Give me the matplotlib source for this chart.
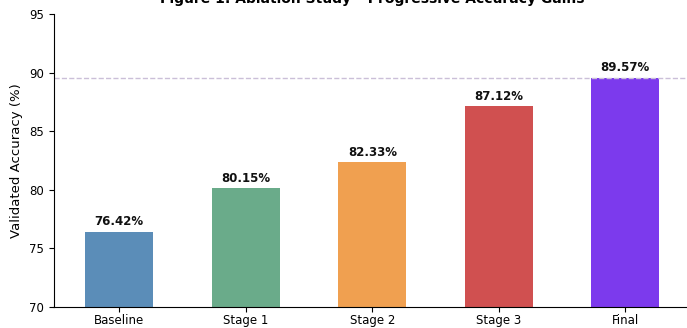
import matplotlib
matplotlib.use("Agg")
import matplotlib.pyplot as plt

stages = ["Baseline\nResNet-18", "Stage 1\n+WCE Loss", "Stage 2\n+AdamW+TS",
          "Stage 3\n+Multi-Scale", "Final\n+TTA"]
accuracy = [76.42, 80.15, 82.33, 87.12, 89.57]
colors = ["#5b8db8", "#6aab8a", "#f0a050", "#d05050", "#7c3aed"]
yticks = [70, 75, 80, 85, 90, 95]

fig = plt.figure(figsize=(6.87, 3.28), dpi=100)
ax = fig.add_axes([53.5 / 687, 1 - 307 / 328, (691 - 53.5) / 687, (307 - 14) / 328])

x = list(range(len(stages)))
bars = ax.bar(x, accuracy, width=0.54, color=colors)
for xi, v in zip(x, accuracy):
    ax.text(xi, v + 0.3, f"{v:.2f}%", ha="center", va="bottom",
            fontsize=8.5, fontweight="bold", color="#111111")

ax.axhline(max(accuracy), color="#cbbfd8", linestyle="--", linewidth=1.0)

ax.set_xlim(-0.52, 4.52)
ax.set_ylim(70, 95)
ax.set_yticks(yticks)
ax.set_xticks(x)
ax.set_xticklabels(stages, fontsize=8.5, linespacing=1.1)
ax.tick_params(axis="x", pad=1.5)
ax.tick_params(axis="y", labelsize=8.5)
ax.set_ylabel("Validated Accuracy (%)", fontsize=9.5)
ax.set_title("Figure 1: Ablation Study \u2013 Progressive Accuracy Gains",
             fontsize=10, fontweight="bold", pad=8)
ax.spines["top"].set_visible(False)
ax.spines["right"].set_visible(False)

fig.savefig("out.png", dpi=100)
